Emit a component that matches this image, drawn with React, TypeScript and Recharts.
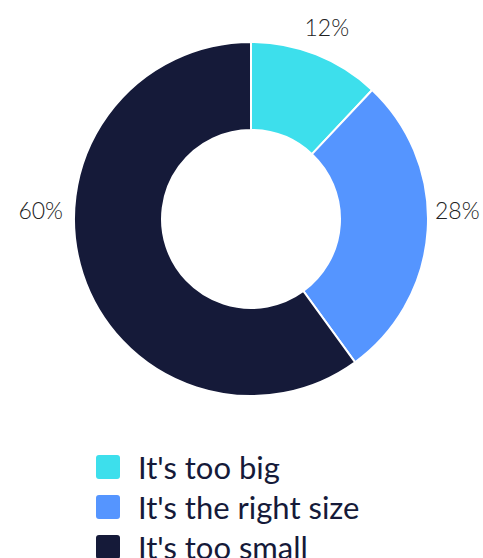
import React from "react";
import { PieChart, Pie, Cell } from "recharts";

const categories = ["It's too big", "It's the right size", "It's too small"];
const shares = [12, 28, 60];
const colors = ["#3DDFEC", "#5595FF", "#151A39"];

const data = categories.map((name, i) => ({ name, value: shares[i] }));

const RAD = Math.PI / 180;
const FONT = "Lato, 'Open Sans', sans-serif";

const renderLabel = (props: any) => {
  const { cx, cy, midAngle, outerRadius, value } = props;
  const cos = Math.cos(-midAngle * RAD);
  const sin = Math.sin(-midAngle * RAD);
  const nearVertical = Math.abs(cos) < 0.5;
  let x: number;
  let y: number;
  let anchor: "start" | "end" | "middle";
  if (nearVertical) {
    const r = outerRadius + 29;
    x = cx + r * cos;
    y = cy + r * sin;
    anchor = "middle";
  } else {
    x = cx + (cos > 0 ? outerRadius + 7 : -(outerRadius + 11));
    y = cy - 9;
    anchor = cos > 0 ? "start" : "end";
  }
  return (
    <text
      x={x}
      y={y}
      textAnchor={anchor}
      dominantBaseline="central"
      fill="#222222"
      fontSize={23}
      fontWeight={300}
      fontFamily={FONT}
    >
      {`${value}%`}
    </text>
  );
};

function LegendBlock() {
  return (
    <div style={{ position: "absolute", left: 96, top: 447, fontFamily: FONT }}>
      {categories.map((name, i) => (
        <div key={i} style={{ display: "flex", alignItems: "center", height: 40 }}>
          <div
            style={{
              width: 24,
              height: 24,
              borderRadius: 3,
              background: colors[i],
              marginRight: 18,
            }}
          />
          <span style={{ fontSize: 31, color: "#151A39", lineHeight: "40px", whiteSpace: "nowrap" }}>
            {name}
          </span>
        </div>
      ))}
    </div>
  );
}

export default function App() {
  return (
    <div style={{ position: "absolute", left: 0, top: 0, width: 483, height: 558, background: "#fff", overflow: "hidden" }}>
      <PieChart width={483} height={558} margin={{ top: 0, right: 0, bottom: 0, left: 0 }}>
        <Pie
          data={data}
          dataKey="value"
          nameKey="name"
          cx={251}
          cy={219}
          outerRadius={177}
          innerRadius={89}
          startAngle={90}
          endAngle={-270}
          stroke="#ffffff"
          strokeWidth={2}
          label={renderLabel}
          labelLine={false}
          isAnimationActive={false}
        >
          {data.map((_, i) => (
            <Cell key={i} fill={colors[i]} />
          ))}
        </Pie>
      </PieChart>
      <LegendBlock />
    </div>
  );
}
